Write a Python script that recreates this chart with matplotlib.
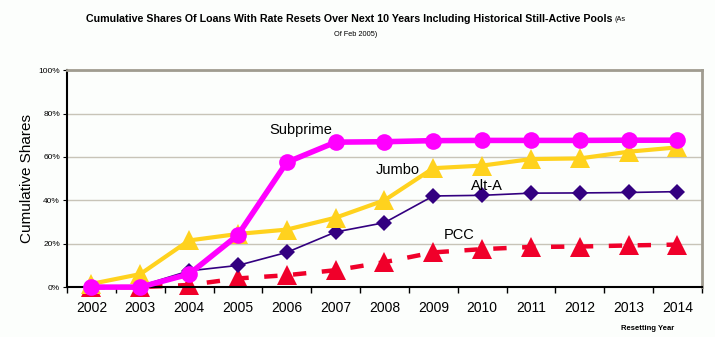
import numpy as np
import matplotlib.pyplot as plt
from matplotlib.ticker import FixedLocator, PercentFormatter

years = ["2002", "2003", "2004", "2005", "2006", "2007", "2008",
         "2009", "2010", "2011", "2012", "2013", "2014"]
subprime = [0, 0, 6, 24, 57.5, 66.8, 67, 67.5, 67.6, 67.6, 67.6, 67.7, 67.7]
jumbo = [1.5, 6, 21.5, 24.5, 26.5, 32, 40, 54.8, 56, 59, 59.3, 62.4, 64.4]
alta = [0, 0.5, 7.5, 10, 16, 25.4, 29.7, 42, 42.3, 43.3, 43.4, 43.6, 44]
pcc = [0, 0, 1, 4, 5.5, 7.8, 11.5, 16, 17.5, 18.5, 18.7, 19.2, 19.6]

font = ["Liberation Sans", "DejaVu Sans"]
plt.rcParams["font.family"] = font

fig = plt.figure(figsize=(7.15, 3.37), dpi=100, facecolor="#fcfefc")
ax = fig.add_axes([0.0937, 0.148, 0.888, 0.644], facecolor="#fcfefc")

x = np.arange(len(years))
ax.plot(x, pcc, color="#f0002a", lw=3.2, ls=(0, (3, 3.5)), marker="^", ms=14,
        markeredgewidth=0, zorder=2, clip_on=False)
ax.plot(x, alta, color="#330080", lw=1.2, marker="D", ms=8,
        markeredgewidth=0, zorder=3, clip_on=False)
ax.plot(x, jumbo, color="#ffd21e", lw=3, marker="^", ms=14,
        markeredgewidth=0, zorder=4, clip_on=False)
ax.plot(x, subprime, color="#ff00ff", lw=4, marker="o", ms=12,
        markeredgewidth=0, zorder=5, clip_on=False)

ax.text(4.28, 72.3, "Subprime", fontsize=10.5, ha="center", va="center")
ax.text(6.27, 54, "Jumbo", fontsize=10.5, ha="center", va="center")
ax.text(8.1, 46.5, "Alt-A", fontsize=10.5, ha="center", va="center")
ax.text(7.53, 24, "PCC", fontsize=10.5, ha="center", va="center")

ax.set_xlim(-0.5, len(years) - 0.5)
ax.set_ylim(0, 100)
ax.set_xticks(x)
ax.set_xticklabels(years, fontsize=10)
ax.xaxis.set_minor_locator(FixedLocator(np.arange(-0.5, len(years), 1)))
ax.tick_params(axis="x", which="major", length=0, pad=10)
ax.tick_params(axis="x", which="minor", length=4, direction="out", width=1)
ax.set_yticks(np.arange(0, 101, 20))
ax.yaxis.set_major_formatter(PercentFormatter(decimals=0))
ax.tick_params(axis="y", labelsize=6, length=3, direction="out", pad=2)
ax.grid(axis="y", color="#c8c4b8", lw=1)
ax.set_axisbelow(True)

for side in ["top", "right"]:
    ax.spines[side].set_color("#a09c90")
    ax.spines[side].set_linewidth(2)
for side in ["left", "bottom"]:
    ax.spines[side].set_color("black")
    ax.spines[side].set_linewidth(1.5)

ax.set_ylabel("Cumulative Shares", fontsize=11)
ax.yaxis.set_label_coords(-0.052, 0.5)

fig.text(0.856, 0.944, "Cumulative Shares Of Loans With Rate Resets Over Next 10 Years Including Historical Still-Active Pools",
         fontsize=7.7, fontweight="bold", ha="right", va="center")
fig.text(0.860, 0.941, "(As", fontsize=5.3, ha="left", va="center")
fig.text(0.497, 0.899, "Of Feb 2005)", fontsize=5.3, ha="center", va="center")
fig.text(0.906, 0.024, "Resetting Year", fontsize=5.5, fontweight="bold",
         ha="center", va="center")

fig.savefig("out.png", dpi=100, facecolor=fig.get_facecolor())
